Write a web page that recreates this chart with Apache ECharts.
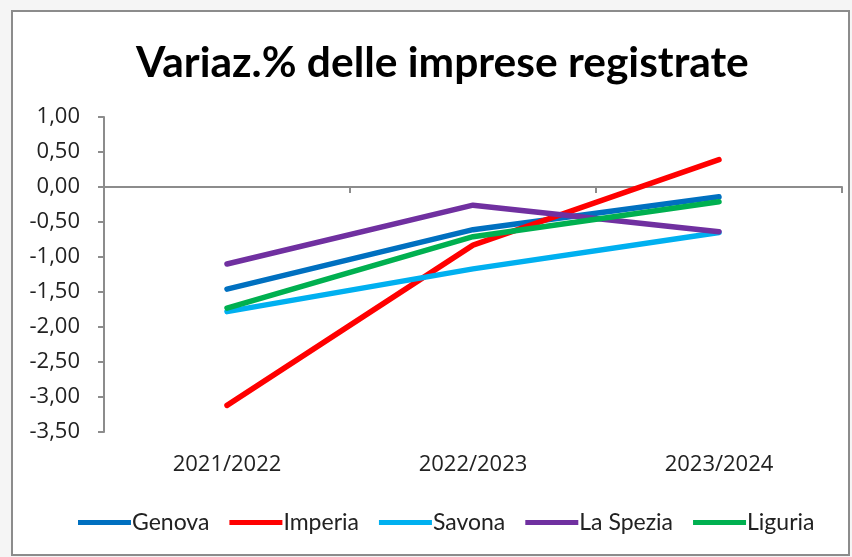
<!DOCTYPE html>
<html>
<head>
<meta charset="utf-8">
<script src="https://cdn.jsdelivr.net/npm/echarts@6/dist/echarts.min.js"></script>
<style>
html,body{margin:0;padding:0;background:#f5f5f5;}
#main{width:852px;height:557px;}
</style>
</head>
<body>
<div id="main"></div>
<script>
// data
var categories = ['2021/2022', '2022/2023', '2023/2024'];
var genova   = [-1.46, -0.61, -0.14];
var imperia  = [-3.12, -0.83, 0.39];
var savona   = [-1.78, -1.17, -0.65];
var laSpezia = [-1.10, -0.26, -0.64];
var liguria  = [-1.73, -0.71, -0.21];
var seriesNames = ['Genova', 'Imperia', 'Savona', 'La Spezia', 'Liguria'];
var seriesColors = ['#0070C0', '#FF0000', '#00B0F0', '#7030A0', '#00B050'];

var myChart = echarts.init(document.getElementById('main'));
var values = [genova, imperia, savona, laSpezia, liguria];

var series = [];
for (let i = 0; i < seriesNames.length; i++) {
	series.push({
		name: seriesNames[i],
		type: 'line',
		xAxisIndex: 0,
		data: values[i],
		symbol: 'none',
		color: seriesColors[i],
		lineStyle: {width: 5.5, cap: 'round', join: 'round'}
	});
}

var option = {
	animation: false,
	backgroundColor: '#f5f5f5',
	graphic: [{
		type: 'rect',
		z: -1,
		shape: {x: 12, y: 11, width: 837, height: 544},
		style: {fill: '#ffffff', stroke: '#8c8c8c', lineWidth: 2}
	}],
	title: {
		text: 'Variaz.% delle imprese registrate',
		left: 131,
		top: 37,
		textStyle: {
			fontFamily: 'Lato, sans-serif',
			fontWeight: 'bold',
			fontSize: 42.5,
			color: '#000'
		}
	},
	legend: {
		data: seriesNames,
		left: 73,
		top: 506,
		icon: 'rect',
		itemWidth: 53,
		itemHeight: 5,
		itemGap: 20,
		textStyle: {
			fontFamily: 'Lato, sans-serif',
			fontSize: 23,
			color: '#222',
			padding: [0, 0, 0, -4]
		}
	},
	grid: {left: 104, right: 10, top: 117, bottom: 125},
	xAxis: [{
		// labels at the bottom of the plot
		type: 'category',
		data: categories,
		position: 'bottom',
		axisLine: {show: false, onZero: false},
		axisTick: {show: false},
		axisLabel: {
			margin: 22,
			fontFamily: 'Open Sans, sans-serif',
			fontSize: 22,
			color: '#222'
		}
	}, {
		// axis line crossing at zero
		type: 'category',
		data: categories,
		position: 'bottom',
		axisLine: {onZero: true, onZeroAxisIndex: 0, lineStyle: {color: '#8c8c8c', width: 2}},
		axisTick: {show: true, length: 6, lineStyle: {color: '#8c8c8c', width: 2}},
		axisLabel: {show: false}
	}],
	yAxis: {
		type: 'value',
		min: -3.5,
		max: 1,
		interval: 0.5,
		splitLine: {show: false},
		axisLine: {show: true, lineStyle: {color: '#8c8c8c', width: 2}},
		axisTick: {show: true, length: 6, lineStyle: {color: '#8c8c8c', width: 2}},
		axisLabel: {
			margin: 24,
			fontFamily: 'Open Sans, sans-serif',
			fontSize: 22,
			color: '#222',
			formatter: function (v) {
				return v.toFixed(2).replace('.', ',');
			}
		}
	},
	series: series
};
myChart.setOption(option);
</script>
</body>
</html>
